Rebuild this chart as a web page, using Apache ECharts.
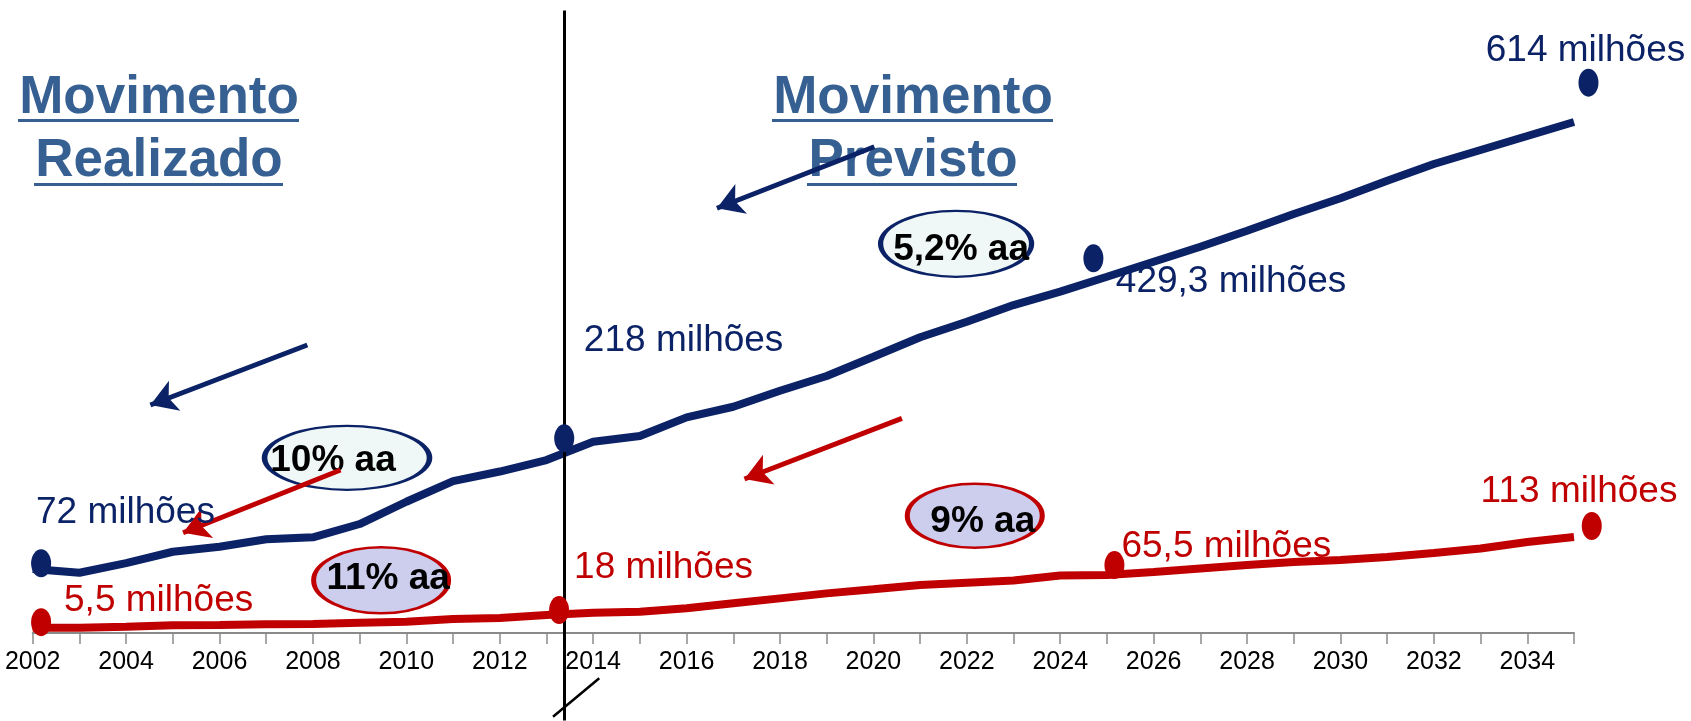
<!DOCTYPE html>
<html>
<head>
<meta charset="utf-8">
<script src="https://cdn.jsdelivr.net/npm/echarts@6/dist/echarts.min.js"></script>
<style>
  html, body { margin: 0; padding: 0; background: #fff; }
  #chart { width: 1691px; height: 721px; }
</style>
</head>
<body>
<div id="chart"></div>
<script>
const FONT = '"Liberation Sans", Arial, sans-serif';
const NAVY = '#0b2266';
const RED = '#c00000';
const TITLE = '#376092';

// anos do eixo
const years = [];
for (let y = 2002; y <= 2035; y++) years.push(y);

// movimento (milhões) - linha azul e linha vermelha
const blueValues = [77.0, 72.5, 84.2, 97.8, 103.9, 112.8, 115.2, 131.2, 158.0, 182.9,
  194.4, 208.2, 230.3, 237.1, 259.6, 272.4, 291.7, 309.4, 332.6, 356.0,
  374.7, 394.8, 410.9, 428.9, 447.0, 465.0, 484.3, 504.4, 523.3, 544.5,
  564.6, 581.5, 598.3, 615.2];
const redValues = [6.3, 6.3, 7.5, 9.2, 9.6, 10.4, 10.8, 12.4, 13.6, 16.8,
  18.0, 21.6, 24.4, 25.6, 29.7, 35.7, 41.7, 47.7, 52.6, 57.7,
  60.5, 63.2, 69.2, 69.8, 73.4, 77.6, 81.8, 85.4, 87.8, 91.4,
  96.2, 101.7, 109.5, 115.5];

// pontos de destaque [ano, valor]
const blueDots = [[2002.18, 83.9], [2013.38, 234.4], [2024.71, 451.1], [2035.31, 662.5]];
const redDots = [[2002.18, 13.0], [2013.27, 27.6], [2025.16, 81.8], [2035.38, 128.8]];

// rótulos de valor [ano, valor, texto]
const blueLabels = [
  [2002.06, 144.4, '72 milhões'],
  [2013.79, 351.9, '218 milhões'],
  [2025.18, 422.5, '429,3 milhões'],
  [2033.10, 700.3, '614 milhões']
];
const redLabels = [
  [2002.66, 38.5, '5,5 milhões'],
  [2013.58, 79.0, '18 milhões'],
  [2025.30, 104.3, '65,5 milhões'],
  [2032.99, 170.5, '113 milhões']
];

// taxas de crescimento [ano, valor, texto]
const blueRates = [[2008.73, 210.9, '10% aa'], [2021.77, 468.5, '5,2% aa']];
const redRates = [[2009.46, 63.4, '11% aa'], [2022.17, 141.1, '9% aa']];

// setas [[ano, valor] início, [ano, valor] fim]
const blueArrows = [[[2007.88, 346.7], [2004.52, 274.5]], [[2020.02, 585.4], [2016.65, 511.3]]];
const redArrows = [[[2008.59, 196.2], [2005.22, 120.7]], [[2020.61, 258.4], [2017.24, 185.4]]];

// linha divisória (realizado / previsto) e traço de corte abaixo do eixo
const divisionYear = 2013.38;
const slash = [[2013.14, -100.8], [2014.13, -54.6]];

const chart = echarts.init(document.getElementById('chart'));

function arrowData(list) {
  return list.map(a => [{ coord: a[0] }, { coord: a[1] }]);
}

function textSeries(list, color) {
  return {
    type: 'scatter',
    clip: false,
    silent: true,
    symbolSize: 1,
    itemStyle: { color: 'rgba(0,0,0,0)', opacity: 1 },
    data: list.map(d => ({ value: [d[0], d[1]], name: d[2] })),
    label: {
      show: true,
      position: 'right',
      distance: 0,
      formatter: '{b}',
      color: color,
      fontSize: 37,
      fontFamily: FONT
    },
    z: 6
  };
}

function rateSeries(list, border, fill, sizes, offsets) {
  return {
    type: 'scatter',
    clip: false,
    silent: true,
    symbol: 'circle',
    data: list.map((d, i) => ({
      value: [d[0], d[1]],
      name: d[2],
      symbolSize: sizes[i],
      label: { offset: offsets[i] }
    })),
    itemStyle: { color: fill, borderColor: border, borderWidth: 3.5, opacity: 1 },
    label: {
      show: true,
      position: 'inside',
      formatter: '{b}',
      color: '#000',
      fontSize: 37,
      fontWeight: 'bold',
      fontFamily: FONT
    },
    z: 4
  };
}

function dotSeries(list, color) {
  return {
    type: 'scatter', clip: false, silent: true,
    symbol: 'circle', symbolSize: [20, 28],
    itemStyle: { color: color, opacity: 1 },
    data: list, z: 5
  };
}

const option = {
  animation: false,
  backgroundColor: '#fff',
  grid: [
    { left: 32.7, right: 117, top: 10, bottom: 88 },
    // mesma largura, altura total: só para a linha divisória que passa abaixo do eixo
    { left: 32.7, right: 117, top: 10, bottom: 0 }
  ],
  xAxis: [
    {
      type: 'value',
      gridIndex: 0,
      min: 2002,
      max: 2035,
      interval: 1,
      splitLine: { show: false },
      axisLine: { lineStyle: { color: '#8a8a8a', width: 2 } },
      axisTick: { length: 11, lineStyle: { color: '#8a8a8a', width: 1.5 } },
      axisLabel: {
        color: '#000',
        fontSize: 25,
        fontFamily: FONT,
        margin: 17,
        formatter: v => (v % 2 === 0 && v < 2035 ? String(v) : '')
      }
    },
    { type: 'value', gridIndex: 1, min: 2002, max: 2035, show: false }
  ],
  yAxis: [
    { type: 'value', gridIndex: 0, min: 0, max: 750, show: false },
    { type: 'value', gridIndex: 1, min: -106, max: 750, show: false }
  ],
  graphic: [
    {
      type: 'text', x: 159, y: 67,
      style: { text: 'Movimento\nRealizado', fill: TITLE, fontSize: 53, fontWeight: 'bold',
        fontFamily: FONT, align: 'center', verticalAlign: 'top', lineHeight: 63 }
    },
    {
      type: 'text', x: 913, y: 67,
      style: { text: 'Movimento\nPrevisto', fill: TITLE, fontSize: 53, fontWeight: 'bold',
        fontFamily: FONT, align: 'center', verticalAlign: 'top', lineHeight: 63 }
    },
    { type: 'rect', shape: { x: 18, y: 119, width: 281, height: 3 }, style: { fill: TITLE } },
    { type: 'rect', shape: { x: 34, y: 183, width: 249, height: 3 }, style: { fill: TITLE } },
    { type: 'rect', shape: { x: 772, y: 119, width: 281, height: 3 }, style: { fill: TITLE } },
    { type: 'rect', shape: { x: 807, y: 183, width: 210, height: 3 }, style: { fill: TITLE } }
  ],
  series: [
    {
      name: 'azul',
      type: 'line',
      data: years.map((y, i) => [y, blueValues[i]]),
      symbol: 'none',
      lineStyle: { color: NAVY, width: 8 },
      z: 3,
      markLine: {
        silent: true,
        symbol: ['none', 'arrow'],
        symbolSize: [24, 26],
        label: { show: false },
        lineStyle: { color: NAVY, width: 5, type: 'solid' },
        data: arrowData(blueArrows)
      }
    },
    {
      name: 'vermelha',
      type: 'line',
      data: years.map((y, i) => [y, redValues[i]]),
      symbol: 'none',
      lineStyle: { color: RED, width: 8 },
      z: 3,
      markLine: {
        silent: true,
        symbol: ['none', 'arrow'],
        symbolSize: [24, 26],
        label: { show: false },
        lineStyle: { color: RED, width: 5, type: 'solid' },
        data: arrowData(redArrows)
      }
    },
    {
      name: 'divisao',
      type: 'line',
      xAxisIndex: 1,
      yAxisIndex: 1,
      data: [],
      markLine: {
        silent: true,
        symbol: 'none',
        label: { show: false },
        lineStyle: { color: '#000', width: 3, type: 'solid' },
        data: [
          [{ coord: [divisionYear, 749.5] }, { coord: [divisionYear, -105.5] }],
          [{ coord: slash[0], lineStyle: { width: 2.5 } }, { coord: slash[1] }]
        ]
      },
      z: 2
    },
    dotSeries(blueDots, NAVY),
    dotSeries(redDots, RED),
    rateSeries(blueRates, NAVY, '#eff8f6', [[165, 64], [151, 66]], [[-14, 3], [5, 6]]),
    rateSeries(redRates, RED, '#cdcdee', [[135, 66], [135, 64]], [[7, -2], [8, 6]]),
    textSeries(blueLabels, NAVY),
    textSeries(redLabels, RED)
  ]
};

chart.setOption(option);
window.addEventListener('resize', () => chart.resize());
</script>
</body>
</html>
